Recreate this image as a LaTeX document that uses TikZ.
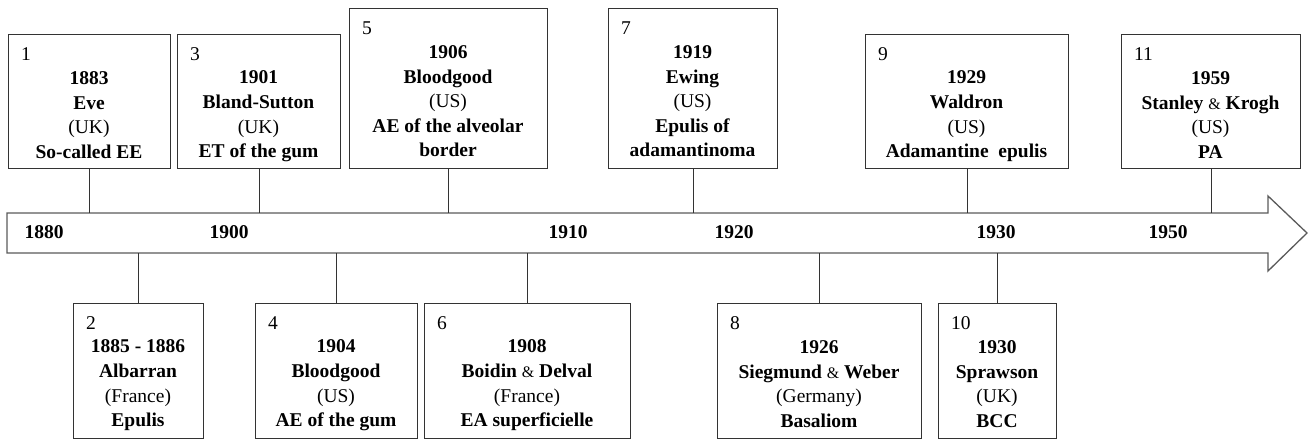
\documentclass[tikz,border=0pt]{standalone}
\usepackage{fontspec}
\setmainfont{Liberation Serif}
\definecolor{boxcol}{HTML}{333333}
\definecolor{arrcol}{HTML}{5A5A5A}
\newcommand\evfont{\fontsize{19.5}{24.6}\selectfont}
\newcommand\vs{\rule[-3pt]{0pt}{16pt}}
\newcommand\amp{{\mdseries\fontsize{16}{24.6}\selectfont\&}}
\newcommand\cty[1]{\textmd{(#1)}}
\tikzset{
  box/.style={draw=boxcol, line width=1.3pt, fill=white, inner sep=0pt, anchor=north west},
  txt/.style={inner sep=0pt, align=center, font=\evfont\bfseries},
  num/.style={inner sep=0pt, anchor=base west, font=\evfont},
  conn/.style={draw=boxcol, line width=1.3pt},
  arrowline/.style={draw=arrcol, line width=1.3pt, fill=white, line join=miter},
  yearlbl/.style={font=\evfont\bfseries, inner sep=0pt},
}
% name, x1, y1, x2, y2, number, lines, nlines
\newcommand\evbox[8]{%
  \node[box, minimum width={#4-#2}, minimum height={#5-#3}] (#1) at (#2,#3) {};
  \node[num] (#1n) at (#2+13, #3+26) {#6};
  \node[txt] (#1t) at ({(#2+#4)/2}, {#3+45.5+(#8-1)*12.3}) {#7};
}
\begin{document}
\begin{tikzpicture}[x=1pt,y=-1pt]
\useasboundingbox (0,0) rectangle (1309,439);
% timeline arrow
\draw[arrowline] (7,213) -- (1268,213) -- (1268,196) -- (1307,233) -- (1268,271) -- (1268,253) -- (7,253) -- cycle;
\coordinate (atop) at (0,213);
\coordinate (abot) at (0,253);
% year labels
\node[yearlbl] (y1880) at (44,232) {1880};
\node[yearlbl] (y1900) at (229,232) {1900};
\node[yearlbl] (y1910) at (568,232) {1910};
\node[yearlbl] (y1920) at (734,232) {1920};
\node[yearlbl] (y1930) at (996,232) {1930};
\node[yearlbl] (y1950) at (1168,232) {1950};
% top boxes
\evbox{b1}{8}{34}{170}{168}{1}{\vs 1883\\Eve\\\cty{UK}\\So-called EE\vs}{4}
\evbox{b3}{177}{34}{340}{168}{3}{\vs 1901\\Bland-Sutton\\\cty{UK}\\ET of the gum\vs}{4}
\evbox{b5}{349}{8}{547}{168}{5}{\vs 1906\\Bloodgood\\\cty{US}\\AE of the alveolar\\border\vs}{5}
\evbox{b7}{608}{8}{777}{168}{7}{\vs 1919\\Ewing\\\cty{US}\\Epulis of\\adamantinoma\vs}{5}
\evbox{b9}{865}{34}{1068}{168}{9}{\vs 1929\\Waldron\\\cty{US}\\Adamantine\ \ epulis\vs}{4}
\evbox{b11}{1121}{34}{1300}{168}{11}{\vs 1959\\Stanley \amp{} Krogh\\\cty{US}\\PA\vs}{4}
% bottom boxes
\evbox{b2}{73}{303}{203}{437.5}{2}{\vs 1885 - 1886\\Albarran\\\cty{France}\\Epulis\vs}{4}
\evbox{b4}{255}{303}{417}{437.5}{4}{\vs 1904\\Bloodgood\\\cty{US}\\AE of the gum\vs}{4}
\evbox{b6}{424}{303}{630}{437.5}{6}{\vs 1908\\Boidin \amp{} Delval\\\cty{France}\\EA superficielle\vs}{4}
\evbox{b8}{717}{303}{921}{437.5}{8}{\vs 1926\\Siegmund \amp{} Weber\\\cty{Germany}\\Basaliom\vs}{4}
\evbox{b10}{938}{303}{1056}{437.5}{10}{\vs 1930\\Sprawson\\\cty{UK}\\BCC\vs}{4}
% connectors
\foreach \b in {b1,b3,b5,b7,b9,b11}{
  \draw[conn] (\b.south) -- (\b.south |- atop);
}
\foreach \b in {b2,b4,b6,b8,b10}{
  \draw[conn] (\b.north) -- (\b.north |- abot);
}
\end{tikzpicture}
\end{document}
